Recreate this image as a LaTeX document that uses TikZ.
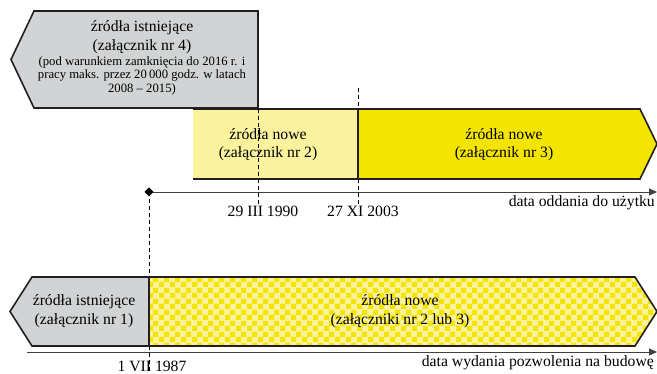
\documentclass[tikz,border=0pt]{standalone}
\usepackage{fontspec}
\setmainfont{Liberation Serif}
\usetikzlibrary{arrows.meta}
\usetikzlibrary{patterns}
\usetikzlibrary{positioning}

\definecolor{szary}{HTML}{D1D3D4}
\definecolor{zoltyjasny}{HTML}{FBF29E}
\definecolor{zolty}{HTML}{F4E500}
\definecolor{ramka}{HTML}{231F20}

\pgfdeclarepatternformonly{szachownica}{\pgfqpoint{0pt}{0pt}}{\pgfqpoint{10.6pt}{10.6pt}}{\pgfqpoint{10.6pt}{10.6pt}}{
	\pgfpathrectangle{\pgfpointorigin}{\pgfqpoint{5.3pt}{5.3pt}}
	\pgfpathrectangle{\pgfqpoint{5.3pt}{5.3pt}}{\pgfqpoint{5.3pt}{5.3pt}}
	\pgfusepath{fill}
}

\begin{document}
\begin{tikzpicture}[
			x=1pt, y=-1pt,
			box/.style={draw=ramka, line width=1.6pt, line join=miter},
			label_big/.style={align=center, font=\fontsize{15.7}{18.5}\selectfont, inner sep=0pt},
			label_small/.style={align=center, font=\fontsize{12.7}{13.4}\selectfont, inner sep=0pt},
			axis/.style={draw=black!75, line width=0.8pt},
			marker/.style={draw=black, dash pattern=on 4pt off 3pt, line width=0.8pt},
			]
			\useasboundingbox (0,0) rectangle (657,374);
			
			% upper row
			\fill[zoltyjasny] (193,109) rectangle (358,179);
			\fill[zolty] (358,109) -- (640,109) -- (657,144) -- (640,179) -- (358,179) -- cycle;
			\draw[box] (193,109) -- (640,109) -- (657,144) -- (640,179) -- (193,179);
			\draw[box] (358,109) -- (358,179);
			\draw[box, fill=szary] (258,108) -- (34,108) -- (11,59.5) -- (34,11) -- (258,11) -- cycle;
			
			% lower row
			\fill[zoltyjasny] (149,277) -- (635,277) -- (657,311.5) -- (635,346) -- (149,346) -- cycle;
			\fill[pattern=szachownica, pattern color=zolty] (149,277) -- (635,277) -- (657,311.5) -- (635,346) -- (149,346) -- cycle;
			\draw[box, fill=szary] (149,277) -- (32,277) -- (10,311.5) -- (32,346) -- (149,346) -- cycle;
			\draw[box] (149,277) -- (635,277) -- (657,311.5) -- (635,346) -- (149,346);
			
			\node[label_big] (ex_4) at (142,37) {źródła istniejące\\(załącznik nr 4)};
			\node[label_small, below=3pt of ex_4] (ex_4_note) {(pod warunkiem zamknięcia do 2016 r. i\\pracy maks. przez 20\,000 godz. w latach\\2008 -- 2015)};
			\node[label_big] (new_2) at (268,144.5) {źródła nowe\\(załącznik nr 2)};
			\node[label_big] (new_3) at (504,144.5) {źródła nowe\\(załącznik nr 3)};
			\node[label_big] (ex_1) at (84,311) {źródła istniejące\\(załącznik nr 1)};
			\node[label_big] (new_23) at (400,311) {źródła nowe\\(załączniki nr 2 lub 3)};
			
			% axes
			\coordinate (a_start) at (149,192);
			\coordinate (a_end) at (657,192);
			\coordinate (b_start) at (27,352);
			\coordinate (b_end) at (657,352);
			\draw[axis, -{Triangle[length=8pt,width=7pt]}] (a_start) -- (a_end);
			\draw[axis, -{Triangle[length=8pt,width=7pt]}] (b_start) -- (b_end);
			\fill[black] (a_start) ++(-4.5,0) -- ++(4.5,-4.5) -- ++(4.5,4.5) -- ++(-4.5,4.5) -- cycle;
			
			% dates
			\coordinate (d_1990_top) at (258,109);
			\coordinate (d_1990_bot) at (258,204);
			\coordinate (d_2003_top) at (358,88);
			\coordinate (d_2003_bot) at (358,204);
			\coordinate (d_1987_bot) at (149,373);
			\draw[marker] (d_1990_top) -- (d_1990_bot);
			\draw[marker] (d_2003_top) -- (358,109);
			\draw[marker] (358,179) -- (d_2003_bot);
			\draw[marker] (a_start) -- (149,277);
			\draw[marker] (149,346) -- (d_1987_bot);
			
			\node[label_big] (t_1990) at (263,211) {29 III 1990};
			\node[label_big] (t_2003) at (363,211) {27 XI 2003};
			\node[label_big, anchor=east] (t_use) at (655,203) {data oddania do użytku};
			\node[label_big] (t_1987) at (152,366) {1 VII 1987};
			\node[label_big, anchor=east] (t_permit) at (654,363) {data wydania pozwolenia na budowę};
			
			\end{tikzpicture}
\end{document}
